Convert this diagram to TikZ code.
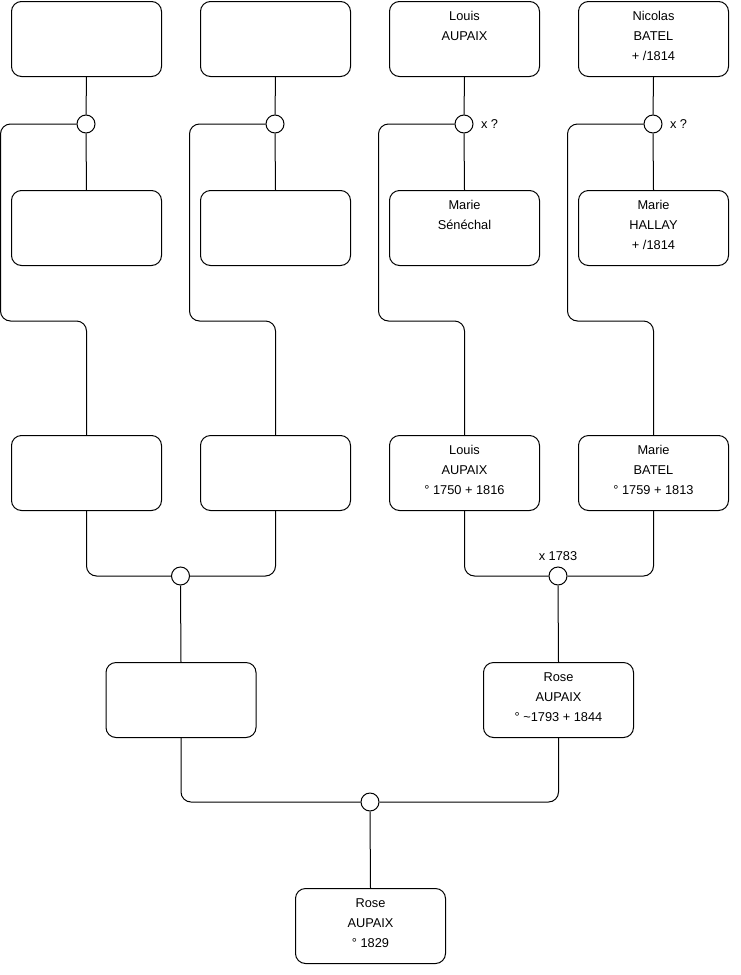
\documentclass[tikz,border=0pt]{standalone}
\usepackage{fontspec}
\setmainfont{Liberation Sans}
\begin{document}
\begin{tikzpicture}[x=1pt,y=-1pt,line width=1pt,
  pbox/.style={draw, rounded corners=10pt, minimum width=150pt, minimum height=75pt,
    inner sep=0pt, anchor=north west},
  ring/.style={draw, circle, minimum size=18pt, inner sep=0pt, fill=white},
  conn/.style={draw, rounded corners=10pt},
  note/.style={inner sep=0pt, font=\fontsize{12.8}{15}\selectfont}]
\newcommand{\ptxt}[1]{\parbox[c][55pt][t]{150pt}{\centering\fontsize{12.8}{20}\selectfont #1}}
\useasboundingbox (0,0) rectangle (740,975);
% boxes
\node[pbox] (a1) at (11,1) {\ptxt{}};
\node[pbox] (a2) at (200,1) {\ptxt{}};
\node[pbox] (a3) at (389,1) {\ptxt{Louis\\AUPAIX}};
\node[pbox] (a4) at (578,1) {\ptxt{Nicolas\\BATEL\\+ /1814}};
\node[pbox] (b1) at (11,190) {\ptxt{}};
\node[pbox] (b2) at (200,190) {\ptxt{}};
\node[pbox] (b3) at (389,190) {\ptxt{Marie\\Sénéchal}};
\node[pbox] (b4) at (578,190) {\ptxt{Marie\\HALLAY\\+ /1814}};
\node[pbox] (c1) at (11,435) {\ptxt{}};
\node[pbox] (c2) at (200,435) {\ptxt{}};
\node[pbox] (c3) at (389,435) {\ptxt{Louis\\AUPAIX\\° 1750 + 1816}};
\node[pbox] (c4) at (578,435) {\ptxt{Marie\\BATEL\\° 1759 + 1813}};
\node[pbox] (d1) at (105.5,662) {\ptxt{}};
\node[pbox] (d2) at (483,662) {\ptxt{Rose\\AUPAIX\\° \textasciitilde1793 + 1844}};
\node[pbox] (e) at (295,888) {\ptxt{Rose\\AUPAIX\\° 1829}};
% marriage rings
\node[ring] (m1) at (86,124) {};
\node[ring] (m2) at (275,124) {};
\node[ring] (m3) at (464,124) {};
\node[ring] (m4) at (653,124) {};
\node[ring] (m5) at (180.5,576) {};
\node[ring] (m6) at (558,576) {};
\node[ring] (m7) at (370,802) {};
% labels
\node[note, anchor=west] (l3) at ([xshift=7pt]m3.east) {x ?};
\node[note, anchor=west] (l4) at ([xshift=7pt]m4.east) {x ?};
\node[note, anchor=south] (l6) at ([yshift=5pt]m6.north) {x 1783};
% connectors
\draw (a1.south) -- (m1.north); \draw (m1.south) -- (b1.north);
\draw (a2.south) -- (m2.north); \draw (m2.south) -- (b2.north);
\draw (a3.south) -- (m3.north); \draw (m3.south) -- (b3.north);
\draw (a4.south) -- (m4.north); \draw (m4.south) -- (b4.north);
\path[conn] (m1.west) -| ++(-76,197) -| (c1.north);
\path[conn] (m2.west) -| ++(-76,197) -| (c2.north);
\path[conn] (m3.west) -| ++(-76,197) -| (c3.north);
\path[conn] (m4.west) -| ++(-76,197) -| (c4.north);
\path[conn] (c1.south) |- (m5.west);
\path[conn] (c2.south) |- (m5.east);
\path[conn] (c3.south) |- (m6.west);
\path[conn] (c4.south) |- (m6.east);
\draw (m5.south) -- (d1.north);
\draw (m6.south) -- (d2.north);
\path[conn] (d1.south) |- (m7.west);
\path[conn] (d2.south) |- (m7.east);
\draw (m7.south) -- (e.north);
\end{tikzpicture}
\end{document}
